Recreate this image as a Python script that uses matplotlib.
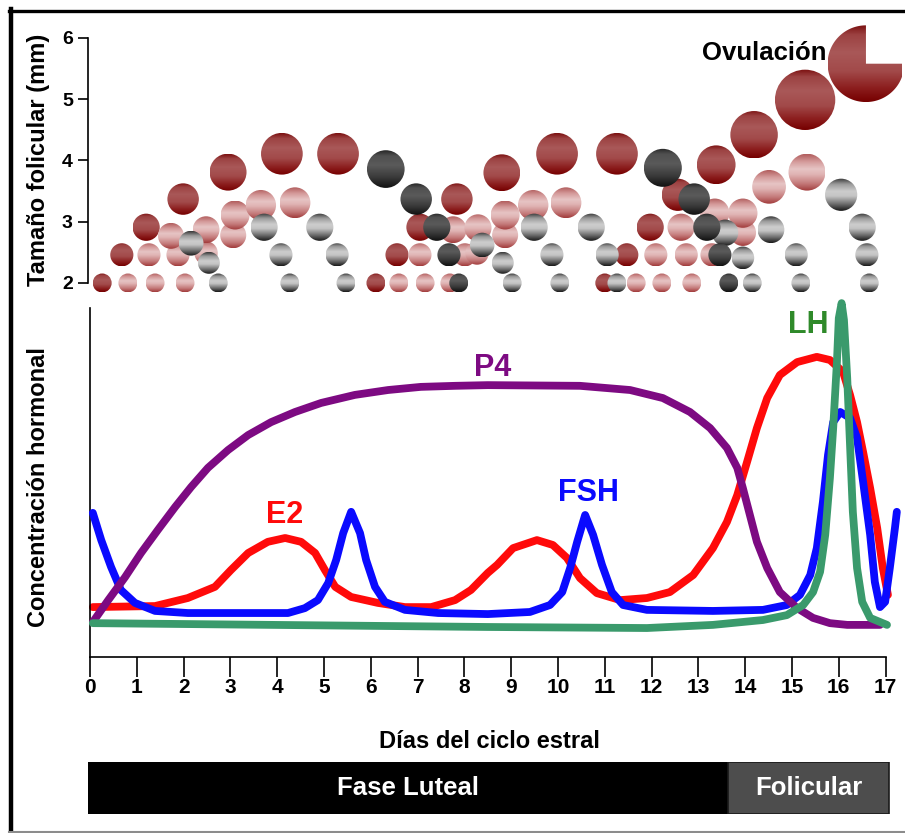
import numpy as np
import matplotlib
matplotlib.use('Agg')
import matplotlib.pyplot as plt
from matplotlib.patches import Ellipse, Polygon
from matplotlib.colors import LinearSegmentedColormap
from matplotlib.lines import Line2D

plt.rcParams['font.family'] = ['Liberation Sans', 'DejaVu Sans']
plt.rcParams['font.weight'] = 'bold'

# ---------------- Datos: foliculos (dia del ciclo, tamaño en mm) ----------------
rojo_dia = [0.26, 0.68, 1.20, 1.99, 2.95, 4.10, 5.30, 6.11, 6.56, 7.05, 7.84, 8.80,
            9.98, 11.26, 11.00, 11.47, 11.97, 12.56, 13.38, 14.19, 15.28]
rojo_mm = [2.00, 2.46, 2.91, 3.37, 3.81, 4.11, 4.11, 2.00, 2.46, 2.91, 3.37, 3.80,
           4.11, 4.11, 2.00, 2.46, 2.91, 3.44, 3.93, 4.42, 4.99]

rosa_dia = [0.81, 1.39, 2.03, 6.60, 7.16, 7.69, 11.67, 12.22, 12.86,
            1.26, 1.88, 2.48, 7.05, 8.01, 8.27, 12.09, 12.74, 13.29,
            1.73, 2.48, 3.06, 7.76, 8.29, 8.87, 12.63, 13.95,
            3.10, 3.65, 4.38, 8.87, 9.47, 10.17, 13.35, 13.95, 14.51, 15.32]
rosa_mm = [2.00, 2.00, 2.00, 2.00, 2.00, 2.00, 2.00, 2.00, 2.00,
           2.46, 2.46, 2.49, 2.46, 2.46, 2.49, 2.46, 2.46, 2.46,
           2.77, 2.87, 2.78, 2.87, 2.90, 2.78, 2.91, 2.82,
           3.11, 3.27, 3.31, 3.11, 3.27, 3.31, 3.14, 3.14, 3.57, 3.81]

gris_dia = [2.74, 4.27, 5.47, 9.02, 10.04, 11.26, 14.15, 15.19, 16.65,
            2.54, 4.08, 5.28, 8.82, 9.87, 11.05, 13.95, 15.09, 16.60,
            2.16, 3.72, 4.91, 8.38, 9.49, 10.71, 13.57, 14.55, 16.50, 16.05]
gris_mm = [2.00, 2.00, 2.00, 2.00, 2.00, 2.00, 2.00, 2.00, 2.00,
           2.33, 2.46, 2.46, 2.33, 2.46, 2.46, 2.41, 2.46, 2.46,
           2.65, 2.91, 2.91, 2.62, 2.91, 2.91, 2.82, 2.87, 2.91, 3.44]

oscuro_dia = [6.32, 6.97, 7.41, 7.67, 7.88, 12.24, 12.91, 13.18, 13.46, 13.65]
oscuro_mm = [3.86, 3.37, 2.91, 2.46, 2.00, 3.88, 3.37, 2.91, 2.46, 2.00]

ovul_dia, ovul_mm = 16.58, 5.58

# ---------------- Datos: hormonas (dia, concentracion relativa) ----------------
e2_dia = [0.06, 1.39, 2.09, 2.67, 3.01, 3.38, 3.80, 4.17, 4.51, 4.81, 5.02, 5.24,
          5.58, 6.15, 6.73, 7.29, 7.80, 8.14, 8.50, 8.70, 9.04, 9.55, 9.89, 10.19,
          10.47, 10.83, 11.33, 11.90, 12.39, 12.89, 13.31, 13.61, 13.83, 14.04, 14.25,
          14.47, 14.74, 15.11, 15.53, 15.81, 16.09, 16.24, 16.39, 16.52, 16.67, 16.82,
          16.94, 17.05]
e2 = [14.3, 14.6, 16.9, 20.1, 24.9, 29.8, 33.0, 34.1, 33.0, 29.8, 24.9, 20.1,
      17.2, 15.5, 14.3, 14.3, 16.3, 19.2, 24.1, 26.4, 31.2, 33.5, 32.1, 28.4,
      22.6, 18.3, 16.3, 16.9, 18.6, 23.5, 31.2, 38.7, 46.4, 55.9, 65.6,
      74.2, 80.8, 84.5, 86.0, 85.1, 81.7, 75.1, 67.3, 58.7, 48.4, 37.0,
      25.5, 17.8]

p4_dia = [0.06, 0.39, 0.75, 1.09, 1.45, 1.82, 2.16, 2.52, 2.95, 3.38, 3.87, 4.38,
          4.94, 5.66, 6.37, 7.07, 7.80, 8.50, 10.47, 11.54, 12.24, 12.82, 13.25,
          13.61, 13.83, 13.95, 14.10, 14.25, 14.47, 14.74, 15.11, 15.45, 15.81,
          16.18, 16.88]
p4 = [10.0, 16.3, 22.9, 29.8, 36.4, 43.0, 48.7, 54.2, 59.3, 63.6, 67.3, 70.2,
      72.8, 75.1, 76.5, 77.4, 77.7, 77.9, 77.7, 76.5, 74.2, 70.2, 65.6,
      59.9, 54.2, 48.4, 40.7, 33.0, 25.5, 18.6, 14.0, 11.2, 9.7,
      9.2, 9.2]

fsh_dia = [0.06, 0.24, 0.45, 0.66, 0.96, 1.39, 2.09, 4.23, 4.59, 4.87, 5.09, 5.26,
           5.41, 5.58, 5.77, 5.90, 6.09, 6.30, 6.73, 7.44, 8.50, 9.40, 9.83, 10.09,
           10.26, 10.41, 10.58, 10.75, 10.94, 11.15, 11.39, 11.90, 13.31, 14.38,
           14.89, 15.17, 15.39, 15.53, 15.66, 15.77, 15.88, 16.03, 16.24, 16.39,
           16.52, 16.67, 16.77, 16.88, 16.99, 17.09, 17.20, 17.24]
fsh = [41.3, 33.5, 25.8, 19.2, 15.5, 13.2, 12.6, 12.6, 14.0, 16.3, 21.2, 27.8,
       35.5, 41.6, 35.5, 27.8, 20.1, 15.8, 13.5, 12.6, 12.3, 12.9, 14.9, 18.6,
       25.5, 33.0, 40.7, 35.0, 26.4, 18.6, 14.9, 13.5, 13.2, 13.5,
       14.9, 17.8, 23.5, 31.2, 44.4, 57.9, 67.3, 70.2, 68.5, 62.8,
       50.1, 35.0, 21.5, 14.3, 15.8, 25.5, 37.0, 41.6]

lh_dia = [0.06, 8.50, 11.90, 13.31, 14.38, 14.89, 15.24, 15.45, 15.60, 15.71,
          15.81, 15.88, 15.96, 16.00, 16.06, 16.11, 16.18, 16.24, 16.30, 16.39,
          16.50, 16.67, 17.03]
lh = [9.7, 8.6, 8.3, 9.2, 10.6, 12.0, 14.9, 18.6, 24.4, 35.0,
      51.3, 65.6, 84.5, 97.1, 101.4, 96.6, 79.9, 60.7, 41.6, 25.5,
      15.8, 11.2, 9.2]

dias_ticks = list(range(0, 18))
fases = ['Fase Luteal', 'Folicular']
fase_ini = [-0.04, 13.63]
fase_fin = [13.63, 17.07]

# ---------------- Figura ----------------
W, H = 905, 833
fig = plt.figure(figsize=(W / 100, H / 100), dpi=100)

XMIN, XMAX = -0.05, 17.35
x_izq = 90 + XMIN * 46.8
x_der = 90 + XMAX * 46.8


def caja(x0, y0, x1, y1):
    return [x0 / W, 1 - y1 / H, (x1 - x0) / W, (y1 - y0) / H]


# marco
fig.add_artist(Line2D([9 / W, 1], [1 - 10.5 / H] * 2, color='black', lw=2.4))
fig.add_artist(Line2D([10.5 / W] * 2, [1 - 9 / H, 1 - 832 / H], color='black', lw=3.2))
fig.add_artist(Line2D([9 / W, 1], [1 - 831.5 / H] * 2, color='#8c8c8c', lw=1.5))

# ---- panel de foliculos ----
ax_f = fig.add_axes(caja(x_izq, 19.6, x_der, 295.25))
Y0F, Y1F = 1.8, 6.3
ppx_dia = 46.8
ppx_mm = (295.25 - 19.6) / (Y1F - Y0F)

cm_rojo = LinearSegmentedColormap.from_list('rojo', [
    (0, '#760000'), (0.18, '#8C1E1E'), (0.4, '#A24A4A'), (0.65, '#A95858'),
    (0.88, '#9C4242'), (1, '#7C1212')])
cm_rosa = LinearSegmentedColormap.from_list('rosa', [
    (0, '#A23C3C'), (0.2, '#C47A7A'), (0.45, '#E0B4B4'), (0.6, '#E6C4C4'),
    (0.8, '#D49A9A'), (1, '#B25E5E')])
cm_gris = LinearSegmentedColormap.from_list('gris', [
    (0, '#1A1A1A'), (0.2, '#6A6A6A'), (0.45, '#C4C4C4'), (0.6, '#CDCDCD'),
    (0.82, '#9A9A9A'), (1, '#383838')])
cm_oscuro = LinearSegmentedColormap.from_list('oscuro', [
    (0, '#111111'), (0.3, '#3C3C3C'), (0.6, '#5A5A5A'), (0.85, '#505050'),
    (1, '#262626')])

grad = np.linspace(0, 1, 80).reshape(-1, 1)


def diametro(mm):
    # diametro del circulo en pixeles segun el tamaño del foliculo
    return 19 + 9 * (mm - 2) + 4.5 * max(mm - 3.2, 0) ** 2


def folículo(ax, x, y, cmap, z, forma=None):
    d = diametro(y)
    w, h = d / ppx_dia, d / ppx_mm
    if forma is None:
        forma = Ellipse((x, y), w, h, facecolor='none', edgecolor='none')
    ax.add_patch(forma)
    im = ax.imshow(grad, cmap=cmap, origin='lower', aspect='auto',
                   extent=[x - w / 2, x + w / 2, y - h / 2, y + h / 2],
                   interpolation='bilinear', zorder=z)
    im.set_clip_path(forma)


for dd, mm in zip(rojo_dia, rojo_mm):
    folículo(ax_f, dd, mm, cm_rojo, 2)
for dd, mm in zip(rosa_dia, rosa_mm):
    folículo(ax_f, dd, mm, cm_rosa, 3)
for dd, mm in zip(gris_dia, gris_mm):
    folículo(ax_f, dd, mm, cm_gris, 4)
for dd, mm in zip(oscuro_dia, oscuro_mm):
    folículo(ax_f, dd, mm, cm_oscuro, 5)

# foliculo ovulatorio (con un cuarto abierto)
d_ov = diametro(ovul_mm)
rx, ry = d_ov / 2 / ppx_dia, d_ov / 2 / ppx_mm
t = np.radians(np.linspace(90, 360, 120))
pts = np.column_stack([ovul_dia + rx * np.cos(t), ovul_mm + ry * np.sin(t)])
pts = np.vstack([pts, [ovul_dia, ovul_mm]])
cuña = Polygon(pts, closed=True, facecolor='none', edgecolor='none')
folículo(ax_f, ovul_dia, ovul_mm, cm_rojo, 6, forma=cuña)
ax_f.text(15.73, 5.76, 'Ovulación', ha='right', va='center', fontsize=18.5,
          fontweight='bold', color='black')

ax_f.set_xlim(XMIN, XMAX)
ax_f.set_ylim(Y0F, Y1F)
for s in ['top', 'right', 'bottom']:
    ax_f.spines[s].set_visible(False)
ax_f.spines['left'].set_bounds(2, 6)
ax_f.spines['left'].set_linewidth(1.2)
ax_f.set_xticks([])
ax_f.set_yticks([2, 3, 4, 5, 6])
ax_f.tick_params(axis='y', length=7.2, width=1.2, pad=3.5, labelsize=14)
ax_f.set_ylabel('Tamaño folicular (mm)', fontsize=17, fontweight='bold')
ax_f.yaxis.set_label_coords((50 - x_izq) / (x_der - x_izq), (295.25 - 160) / (295.25 - 19.6))
ax_f.patch.set_alpha(0)

# ---- panel hormonal ----
ax_h = fig.add_axes(caja(x_izq, 308, x_der, 657))
lw = 5.6
estilo = dict(solid_capstyle='round', solid_joinstyle='round', clip_on=False)
ax_h.plot(e2_dia, e2, color='#FF0A0A', lw=lw, zorder=2, **estilo)
ax_h.plot(fsh_dia, fsh, color='#0A0AFF', lw=lw, zorder=3, **estilo)
ax_h.plot(p4_dia, p4, color='#7D0A82', lw=lw, zorder=4, **estilo)
ax_h.plot(lh_dia, lh, color='#3A9A6C', lw=lw, zorder=5, **estilo)

ax_h.text(8.61, 82.8, 'P4', color='#7D0A82', fontsize=22, ha='center', va='center')
ax_h.text(4.15, 40.7, 'E2', color='#FF0A0A', fontsize=22, ha='center', va='center')
ax_h.text(10.64, 47.0, 'FSH', color='#0A0AFF', fontsize=22, ha='center', va='center')
ax_h.text(15.34, 95.1, 'LH', color='#2F8A2A', fontsize=22, ha='center', va='center')

ax_h.set_xlim(XMIN, XMAX)
ax_h.set_ylim(0, 100)
ax_h.spines['top'].set_visible(False)
ax_h.spines['right'].set_visible(False)
ax_h.spines['left'].set_position(('data', 0))
ax_h.spines['left'].set_bounds(0, 100)
ax_h.spines['bottom'].set_bounds(0, 17)
for s in ['left', 'bottom']:
    ax_h.spines[s].set_linewidth(1.2)
ax_h.set_yticks([])
ax_h.set_xticks(dias_ticks)
ax_h.tick_params(axis='x', length=14.4, width=1.2, pad=1, labelsize=15)
ax_h.set_xlabel('Días del ciclo estral', fontsize=17, fontweight='bold')
ax_h.xaxis.set_label_coords((489 - x_izq) / (x_der - x_izq), (657 - 730) / 349)
ax_h.set_ylabel('Concentración hormonal', fontsize=17, fontweight='bold')
ax_h.yaxis.set_label_coords((50 - x_izq) / (x_der - x_izq), (657 - 487) / 349)
ax_h.patch.set_alpha(0)

# ---- barra de fases ----
ax_p = fig.add_axes(caja(x_izq, 762, x_der, 814))
anchos = [f - i for i, f in zip(fase_ini, fase_fin)]
ax_p.barh(0.5, anchos, left=fase_ini, height=1, color=['black', '#4D4D4D'],
          edgecolor=['black', '#1A1A1A'], linewidth=1.2)
for nombre, i, f in zip(fases, fase_ini, fase_fin):
    ax_p.text((i + f) / 2, 0.5, nombre, color='white', fontsize=18.5,
              ha='center', va='center')
ax_p.set_xlim(XMIN, XMAX)
ax_p.set_ylim(0, 1)
ax_p.axis('off')

fig.savefig('out.png', dpi=100)
